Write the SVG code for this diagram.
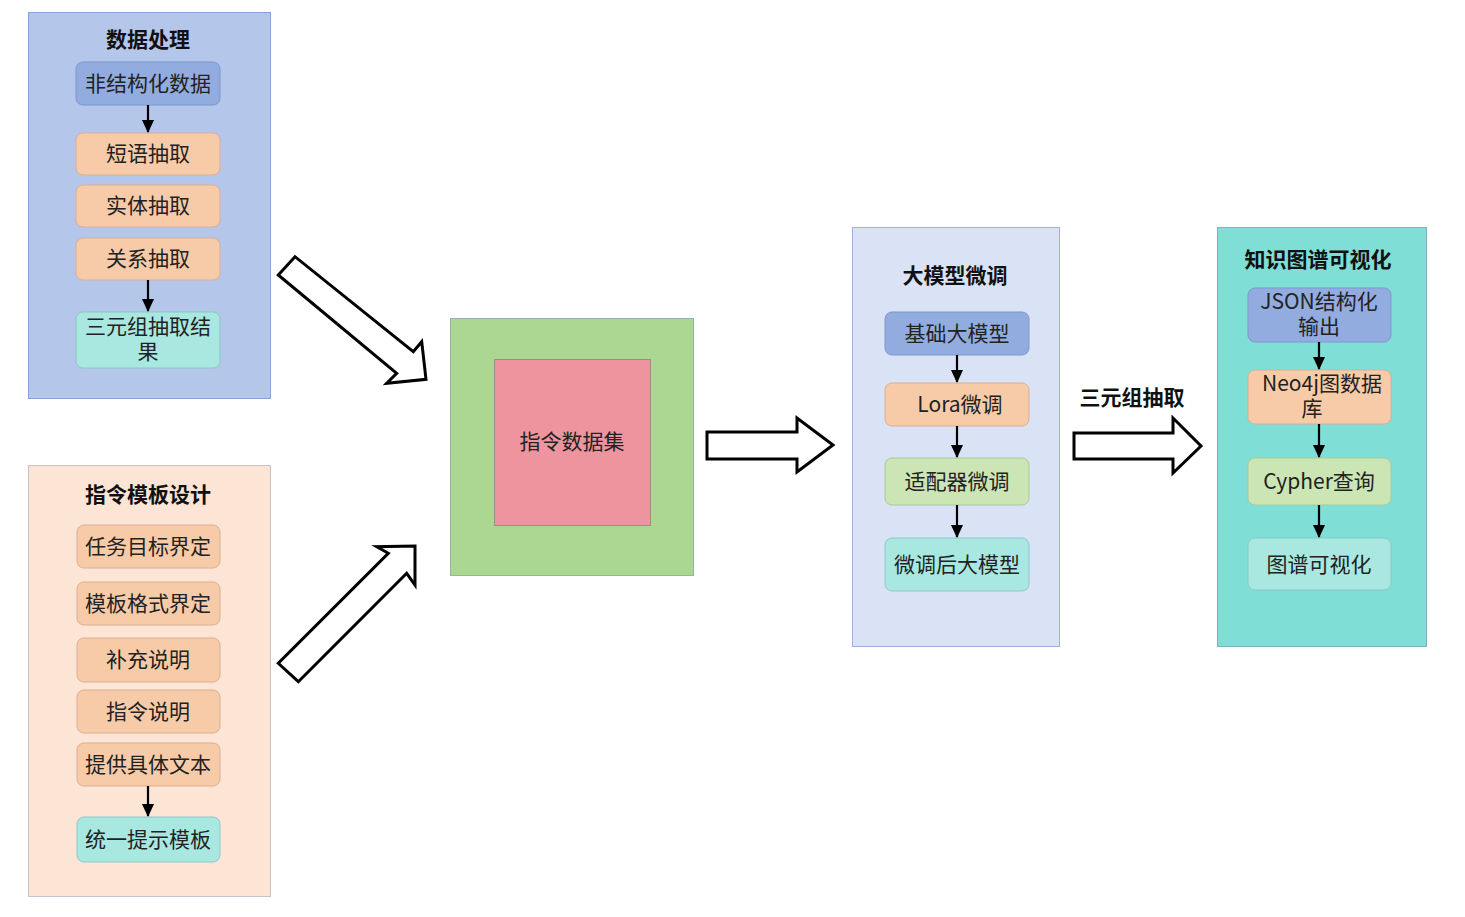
<svg xmlns="http://www.w3.org/2000/svg" width="1465" height="917" viewBox="0 0 1465 917">
<defs>
<style>
.t{font-family:"Noto Sans CJK SC","Liberation Sans",sans-serif;font-size:21px;fill:#222;text-anchor:middle}
.h{font-family:"Noto Sans CJK SC","Liberation Sans",sans-serif;font-size:21px;font-weight:bold;fill:#111;text-anchor:middle}
.n{stroke-width:1}
.blue{fill:#93acdf;stroke:#7d97cf}
.or{fill:#f8cba8;stroke:#d9ae95}
.tl{fill:#a9e8e1;stroke:#8cc8c8}
.gr{fill:#cce5b5;stroke:#a9c99a}
.ed{stroke:#000;stroke-width:2.2;fill:none;marker-end:url(#ah)}
.blk{fill:#fff;stroke:#000;stroke-width:3;stroke-linejoin:miter}
</style>
<marker id="ah" markerWidth="14" markerHeight="14" refX="12" refY="7" orient="auto" markerUnits="userSpaceOnUse"><path d="M0,1 L13,7 L0,13 Z" fill="#000"/></marker>
</defs>
<rect width="1465" height="917" fill="#fff"/>

<g id="panel-data">
<rect x="28.5" y="12.5" width="242" height="386" fill="#b4c6ea" stroke="#8aa3d6"/>
<text class="h" x="148" y="47">数据处理</text>
</g>
<g id="n-unstructured"><rect class="n blue" x="76" y="62" width="144" height="43" rx="7"/><text class="t" x="148" y="91">非结构化数据</text></g>
<g id="n-phrase"><rect class="n or" x="76" y="133" width="144" height="42" rx="7"/><text class="t" x="148" y="161">短语抽取</text></g>
<g id="n-entity"><rect class="n or" x="76" y="185" width="144" height="42" rx="7"/><text class="t" x="148" y="213">实体抽取</text></g>
<g id="n-relation"><rect class="n or" x="76" y="238" width="144" height="42" rx="7"/><text class="t" x="148" y="266">关系抽取</text></g>
<g id="n-triple-result"><rect class="n tl" x="76" y="312" width="144" height="56" rx="7"/><text class="t" x="148" y="334">三元组抽取结<tspan x="148" dy="25">果</tspan></text></g>

<g id="panel-template">
<rect x="28.5" y="465.5" width="242" height="431" fill="#fce5d4" stroke="#c8c2cc"/>
<text class="h" x="148" y="502">指令模板设计</text>
</g>
<g id="n-task"><rect class="n or" x="77" y="525" width="143" height="43" rx="7"/><text class="t" x="148" y="554">任务目标界定</text></g>
<g id="n-format"><rect class="n or" x="77" y="582" width="143" height="43" rx="7"/><text class="t" x="148" y="611">模板格式界定</text></g>
<g id="n-supp"><rect class="n or" x="77" y="638" width="143" height="44" rx="7"/><text class="t" x="148" y="667">补充说明</text></g>
<g id="n-instr"><rect class="n or" x="77" y="690" width="143" height="43" rx="7"/><text class="t" x="148" y="719">指令说明</text></g>
<g id="n-text"><rect class="n or" x="77" y="743" width="143" height="43" rx="7"/><text class="t" x="148" y="772">提供具体文本</text></g>
<g id="n-unified"><rect class="n tl" x="77" y="817" width="143" height="45" rx="7"/><text class="t" x="148" y="847">统一提示模板</text></g>

<g id="n-dataset">
<rect x="450.5" y="318.5" width="243" height="257" fill="#acd792" stroke="#8fb6a8"/>
<rect x="494.5" y="359.5" width="156" height="166" fill="#ee949e" stroke="#a08a8a"/>
<text class="t" x="572" y="449">指令数据集</text>
</g>

<g id="panel-finetune">
<rect x="852.5" y="227.5" width="207" height="419" fill="#dae3f6" stroke="#9fb1d8"/>
<text class="h" x="955" y="283">大模型微调</text>
</g>
<g id="n-base"><rect class="n blue" x="885" y="312" width="144" height="43" rx="7"/><text class="t" x="957" y="341">基础大模型</text></g>
<g id="n-lora"><rect class="n or" x="885" y="383" width="144" height="43" rx="7"/><text class="t" x="960" y="412">Lora微调</text></g>
<g id="n-adapter"><rect class="n gr" x="885" y="458" width="144" height="47" rx="7"/><text class="t" x="957" y="489">适配器微调</text></g>
<g id="n-tuned"><rect class="n tl" x="885" y="538" width="144" height="53" rx="7"/><text class="t" x="957" y="572">微调后大模型</text></g>

<g id="panel-kg">
<rect x="1217.5" y="227.5" width="209" height="419" fill="#7fded5" stroke="#7fb0c8"/>
<text class="h" x="1318" y="267">知识图谱可视化</text>
</g>
<g id="n-json"><rect class="n blue" x="1248" y="288" width="143" height="54" rx="7"/><text class="t" x="1319" y="309">JSON结构化<tspan x="1319" dy="25">输出</tspan></text></g>
<g id="n-neo4j"><rect class="n or" x="1248" y="370" width="143" height="54" rx="7"/><text class="t" x="1322" y="391">Neo4j图数据<tspan x="1312" dy="25">库</tspan></text></g>
<g id="n-cypher"><rect class="n gr" x="1248" y="458" width="143" height="47" rx="7"/><text class="t" x="1319" y="489">Cypher查询</text></g>
<g id="n-vis"><rect class="n tl" x="1248" y="538" width="143" height="52" rx="7"/><text class="t" x="1319" y="572">图谱可视化</text></g>

<g id="connectors">
<line class="ed" x1="148" y1="105" x2="148" y2="132"/>
<line class="ed" x1="148" y1="280" x2="148" y2="311"/>
<line class="ed" x1="148" y1="786" x2="148" y2="816"/>
<line class="ed" x1="957" y1="355" x2="957" y2="382"/>
<line class="ed" x1="957" y1="426" x2="957" y2="457"/>
<line class="ed" x1="957" y1="505" x2="957" y2="537"/>
<line class="ed" x1="1319" y1="342" x2="1319" y2="369"/>
<line class="ed" x1="1319" y1="424" x2="1319" y2="457"/>
<line class="ed" x1="1319" y1="505" x2="1319" y2="537"/>
<polygon class="blk" points="278.3,275 295,256.7 413.3,351.7 421.7,341.7 426,379.3 386.7,383.3 396.7,373.3"/>
<polygon class="blk" points="298.3,681.7 278.3,663.3 388.3,553.3 376.7,546.7 415,546 415,585 406.7,573.3"/>
<polygon class="blk" points="707,432 797,432 797,418 833,445 797,472 797,459 707,459"/>
<polygon class="blk" points="1074,433 1173,433 1173,418 1201,446 1173,473 1173,459 1074,459"/>
<text class="h" x="1132" y="405">三元组抽取</text>
</g>
</svg>
